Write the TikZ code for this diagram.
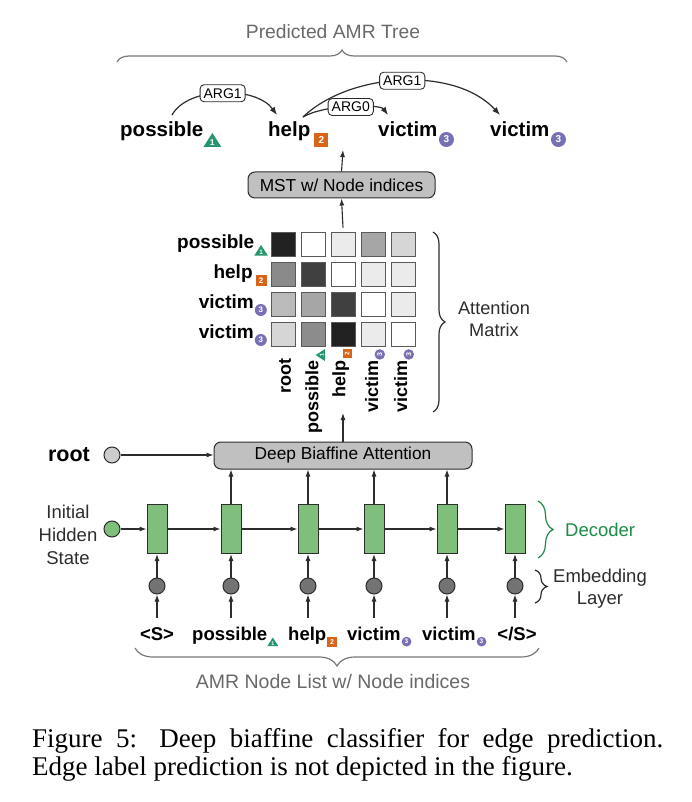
\documentclass[tikz,border=0pt]{standalone}
\usepackage{fontspec}
\usepackage{graphicx}
\setmainfont{Liberation Sans}
\newfontfamily\capfont{Liberation Serif}
\usetikzlibrary{arrows.meta,decorations.pathreplacing,calc}

\definecolor{tricol}{RGB}{38,150,110}
\definecolor{sqcol}{RGB}{215,100,25}
\definecolor{circol}{RGB}{120,112,180}
\definecolor{cellgreen}{RGB}{127,191,123}
\definecolor{decgreen}{RGB}{30,140,70}
\definecolor{lblgray}{RGB}{105,105,105}
\definecolor{bracegray}{RGB}{120,120,120}
\definecolor{boxgray}{RGB}{192,192,192}
\definecolor{edgecol}{RGB}{45,45,45}

% badges: #1 scale, #2 digit
\newcommand\btri[2][1]{\scalebox{#1}{\tikz[baseline=0pt,x=1pt,y=1pt]{\fill[tricol](-9,-10)--(9,-10)--(0,4)--cycle;\node[anchor=center,inner sep=0pt,text=white,font=\bfseries\fontsize{8.5}{8.5}\selectfont] at (0,-5.2) {#2};}}}
\newcommand\bsq[2][1]{\scalebox{#1}{\tikz[baseline=0pt,x=1pt,y=1pt]{\fill[sqcol](-7,-10) rectangle (7,4);\node[anchor=center,inner sep=0pt,text=white,font=\bfseries\fontsize{10}{10}\selectfont] at (0,-3) {#2};}}}
\newcommand\bcirc[2][1]{\scalebox{#1}{\tikz[baseline=0pt,x=1pt,y=1pt]{\fill[circol](0,-2.5) circle (7.5);\node[anchor=center,inner sep=0pt,text=white,font=\bfseries\fontsize{10}{10}\selectfont] at (0,-2.5) {#2};}}}

\begin{document}
\begin{tikzpicture}[x=1pt,y=-1pt,
  arr/.style={-{Latex[length=7pt,width=5pt]}, line width=1.1pt, draw=edgecol},
  arcarr/.style={-{Latex[length=8pt,width=6pt]}, line width=1.2pt, draw=edgecol},
  argbox/.style={draw=edgecol, fill=white, rounded corners=4pt, line width=0.9pt, font=\fontsize{14}{14}\selectfont, inner xsep=3.5pt, inner ysep=0pt, minimum height=17pt, text height=10pt, text depth=0pt},
  topw/.style={font=\bfseries\fontsize{20.5}{24}\selectfont, inner sep=0pt},
  roww/.style={font=\bfseries\fontsize{19}{22}\selectfont, inner sep=0pt, anchor=base east},
  colw/.style={font=\bfseries\fontsize{18}{20}\selectfont, inner sep=0pt, rotate=90, anchor=east},
  botw/.style={font=\bfseries\fontsize{18.5}{22}\selectfont, inner sep=0pt, text height=14pt, text depth=4pt, anchor=base west},
  graybox/.style={draw=edgecol, fill=boxgray, rounded corners=7pt, line width=1pt, font=\fontsize{17.3}{20}\selectfont},
  cell/.style={draw=black!65, line width=0.8pt, minimum size=24pt, inner sep=0pt},
  deccell/.style={draw=edgecol, fill=cellgreen, line width=1pt, minimum width=20pt, minimum height=49pt, inner sep=0pt},
  embc/.style={circle, draw=edgecol, fill=black!55, line width=1pt, minimum size=16pt, inner sep=0pt},
  lbltext/.style={font=\fontsize{18.5}{23}\selectfont, align=center, inner sep=0pt},
  bracepath/.style={decorate, line width=1.2pt},
]
\useasboundingbox[fill=white] (0,0) rectangle (691,802);

% ---------- Predicted AMR tree ----------
\node[font=\fontsize{19.3}{22}\selectfont, text=lblgray] (ptitle) at (333,32) {Predicted AMR Tree};
\draw[bracepath, decoration={brace, amplitude=12pt}, draw=bracegray] (117,62) -- (567,62);

\node[topw, anchor=base west] (t1) at (120,137) {possible\btri{1}};
\node[topw, anchor=base west] (t2) at (268,137) {help\hspace{4pt}\bsq{2}};
\node[topw, anchor=base west] (t3) at (378,137) {victim\hspace{1.5pt}\bcirc{3}};
\node[topw, anchor=base west] (t4) at (490,137) {victim\hspace{1.5pt}\bcirc{3}};

\coordinate (a1s) at (172,115);
\coordinate (a1e) at (277,115);
\coordinate (a2s) at (303,117);
\coordinate (a2e) at (388,115);
\coordinate (a3e) at (500,115);
\draw[arcarr] (a1s) .. controls (188,86) and (256,86) .. node[argbox] (l1) {ARG1} (a1e);
\draw[arcarr] (a2s) .. controls (350,72) and (455,66) .. node[argbox] (l3) {ARG1} (a3e);
\draw[arcarr] (a2s) .. controls (325,104) and (380,104) .. node[argbox] (l2) {ARG0} (a2e);

% ---------- MST ----------
\node[graybox, minimum width=187pt, minimum height=26pt] (mst) at (341.5,185) {MST w/ Node indices};
\coordinate (topend) at (343,150);
\draw[arr] (mst.north) -- (topend);

% ---------- Attention matrix ----------
\foreach \r/\y/\vals in {1/244/{87,0,8,35,16}, 2/274/{46,75,0,8,8}, 3/304/{27,35,75,0,8}, 4/334/{16,45,87,8,0}}{
  \foreach \v [count=\c] in \vals {
    \pgfmathsetmacro{\xx}{253+30*\c}
    \node[cell, fill=black!\v] (m\r\c) at (\xx,\y) {};
  }
}
\draw[arr] ([yshift=4pt]m13.north) -- (mst.south);

\node[roww] (r1) at (268,248) {possible\btri[0.75]{1}};
\node[roww] (r2) at (267,278) {help\hspace{3pt}\bsq[0.8]{2}};
\node[roww] (r3) at (267,308) {victim\hspace{1pt}\bcirc[0.8]{3}};
\node[roww] (r4) at (267,338) {victim\hspace{1pt}\bcirc[0.8]{3}};

\node[colw] (c1) at (285,358) {root};
\node[colw] (c2) at (315,349) {possible\btri[0.65]{1}};
\node[colw] (c3) at (342,349) {help\hspace{2pt}\bsq[0.65]{2}};
\node[colw] (c4) at (375,349) {victim\hspace{1pt}\bcirc[0.7]{3}};
\node[colw] (c5) at (404,349) {victim\hspace{1pt}\bcirc[0.7]{3}};

\draw[bracepath, decoration={brace, amplitude=12pt}, draw=edgecol] (433,232) -- (433,412);
\node[font=\fontsize{18.2}{22}\selectfont, align=center, text=edgecol] (amlbl) at (494,319) {Attention\\Matrix};

% ---------- Deep biaffine ----------
\node[graybox, minimum width=258pt, minimum height=27pt] (biaf) at (343,455.5) {Deep Biaffine Attention};
\coordinate (attend) at (343,413);
\draw[arr] (biaf.north) -- (attend);

\node[font=\bfseries\fontsize{21.5}{24}\selectfont, inner sep=0pt] (rootw) at (69,455) {root};
\node[circle, draw=edgecol, fill=black!20, line width=1pt, minimum size=16pt, inner sep=0pt] (rc) at (112,455) {};
\draw[arr] (rc.east) -- (rc -| biaf.west);

% ---------- Decoder ----------
\node[lbltext, text=edgecol] (ihs) at (68,535) {Initial\\Hidden\\State};
\node[circle, draw=edgecol, fill=cellgreen, line width=1pt, minimum size=16pt, inner sep=0pt] (ic) at (112,529) {};

\foreach \i/\x in {1/157,2/231,3/308,4/374,5/447,6/515}{
  \node[deccell] (d\i) at (\x,529) {};
  \node[embc] (e\i) at (\x,586) {};
}
\draw[arr] (ic) -- (d1);
\foreach \i/\j in {1/2,2/3,3/4,4/5,5/6}{ \draw[arr] (d\i) -- (d\j); }
\foreach \i in {2,3,4,5}{ \draw[arr] (d\i.north) -- (d\i |- biaf.south); }
\foreach \i in {1,...,6}{ \draw[arr] (e\i) -- (d\i); }

\node[botw, anchor=base] (b1) at (157,640) {<S>};
\node[botw] (b2) at (192,640) {possible\btri[0.62]{1}};
\node[botw] (b3) at (288,640) {help\hspace{1pt}\bsq[0.7]{2}};
\node[botw] (b4) at (347,640) {victim\hspace{1pt}\bcirc[0.65]{3}};
\node[botw] (b5) at (422,640) {victim\hspace{1pt}\bcirc[0.65]{3}};
\node[botw, anchor=base] (b6) at (517,640) {</S>};
\foreach \i in {1,...,6}{ \draw[arr] ($(e\i.south |- b1.north)+(0,-8)$) -- (e\i.south); }

\draw[bracepath, decoration={brace, amplitude=15pt}, draw=decgreen] (538,501) -- (538,558);
\node[font=\fontsize{18.5}{22}\selectfont, text=decgreen, anchor=west, inner sep=0pt] (declbl) at (565,530) {Decoder};
\draw[bracepath, decoration={brace, amplitude=12pt}, draw=edgecol] (535,570) -- (535,603);
\node[lbltext, text=edgecol, font=\fontsize{18.5}{22}\selectfont] (emblbl) at (600,589) {Embedding\\Layer};

\draw[bracepath, decoration={brace, amplitude=18pt}, draw=bracegray] (539,648) -- (135,648);
\node[font=\fontsize{19.5}{22}\selectfont, text=lblgray] (nlbl) at (333,682) {AMR Node List w/ Node indices};

% ---------- Caption ----------
\node[anchor=base west, inner sep=0pt, font=\capfont\fontsize{27}{28}\selectfont] (cap1) at (32,747) {\makebox[631pt][s]{Figure 5: Deep biaffine classifier for edge prediction.}};
\node[anchor=base west, inner sep=0pt, font=\capfont\fontsize{27}{28}\selectfont] (cap2) at (32,775) {Edge label prediction is not depicted in the figure.};
\end{tikzpicture}
\end{document}
